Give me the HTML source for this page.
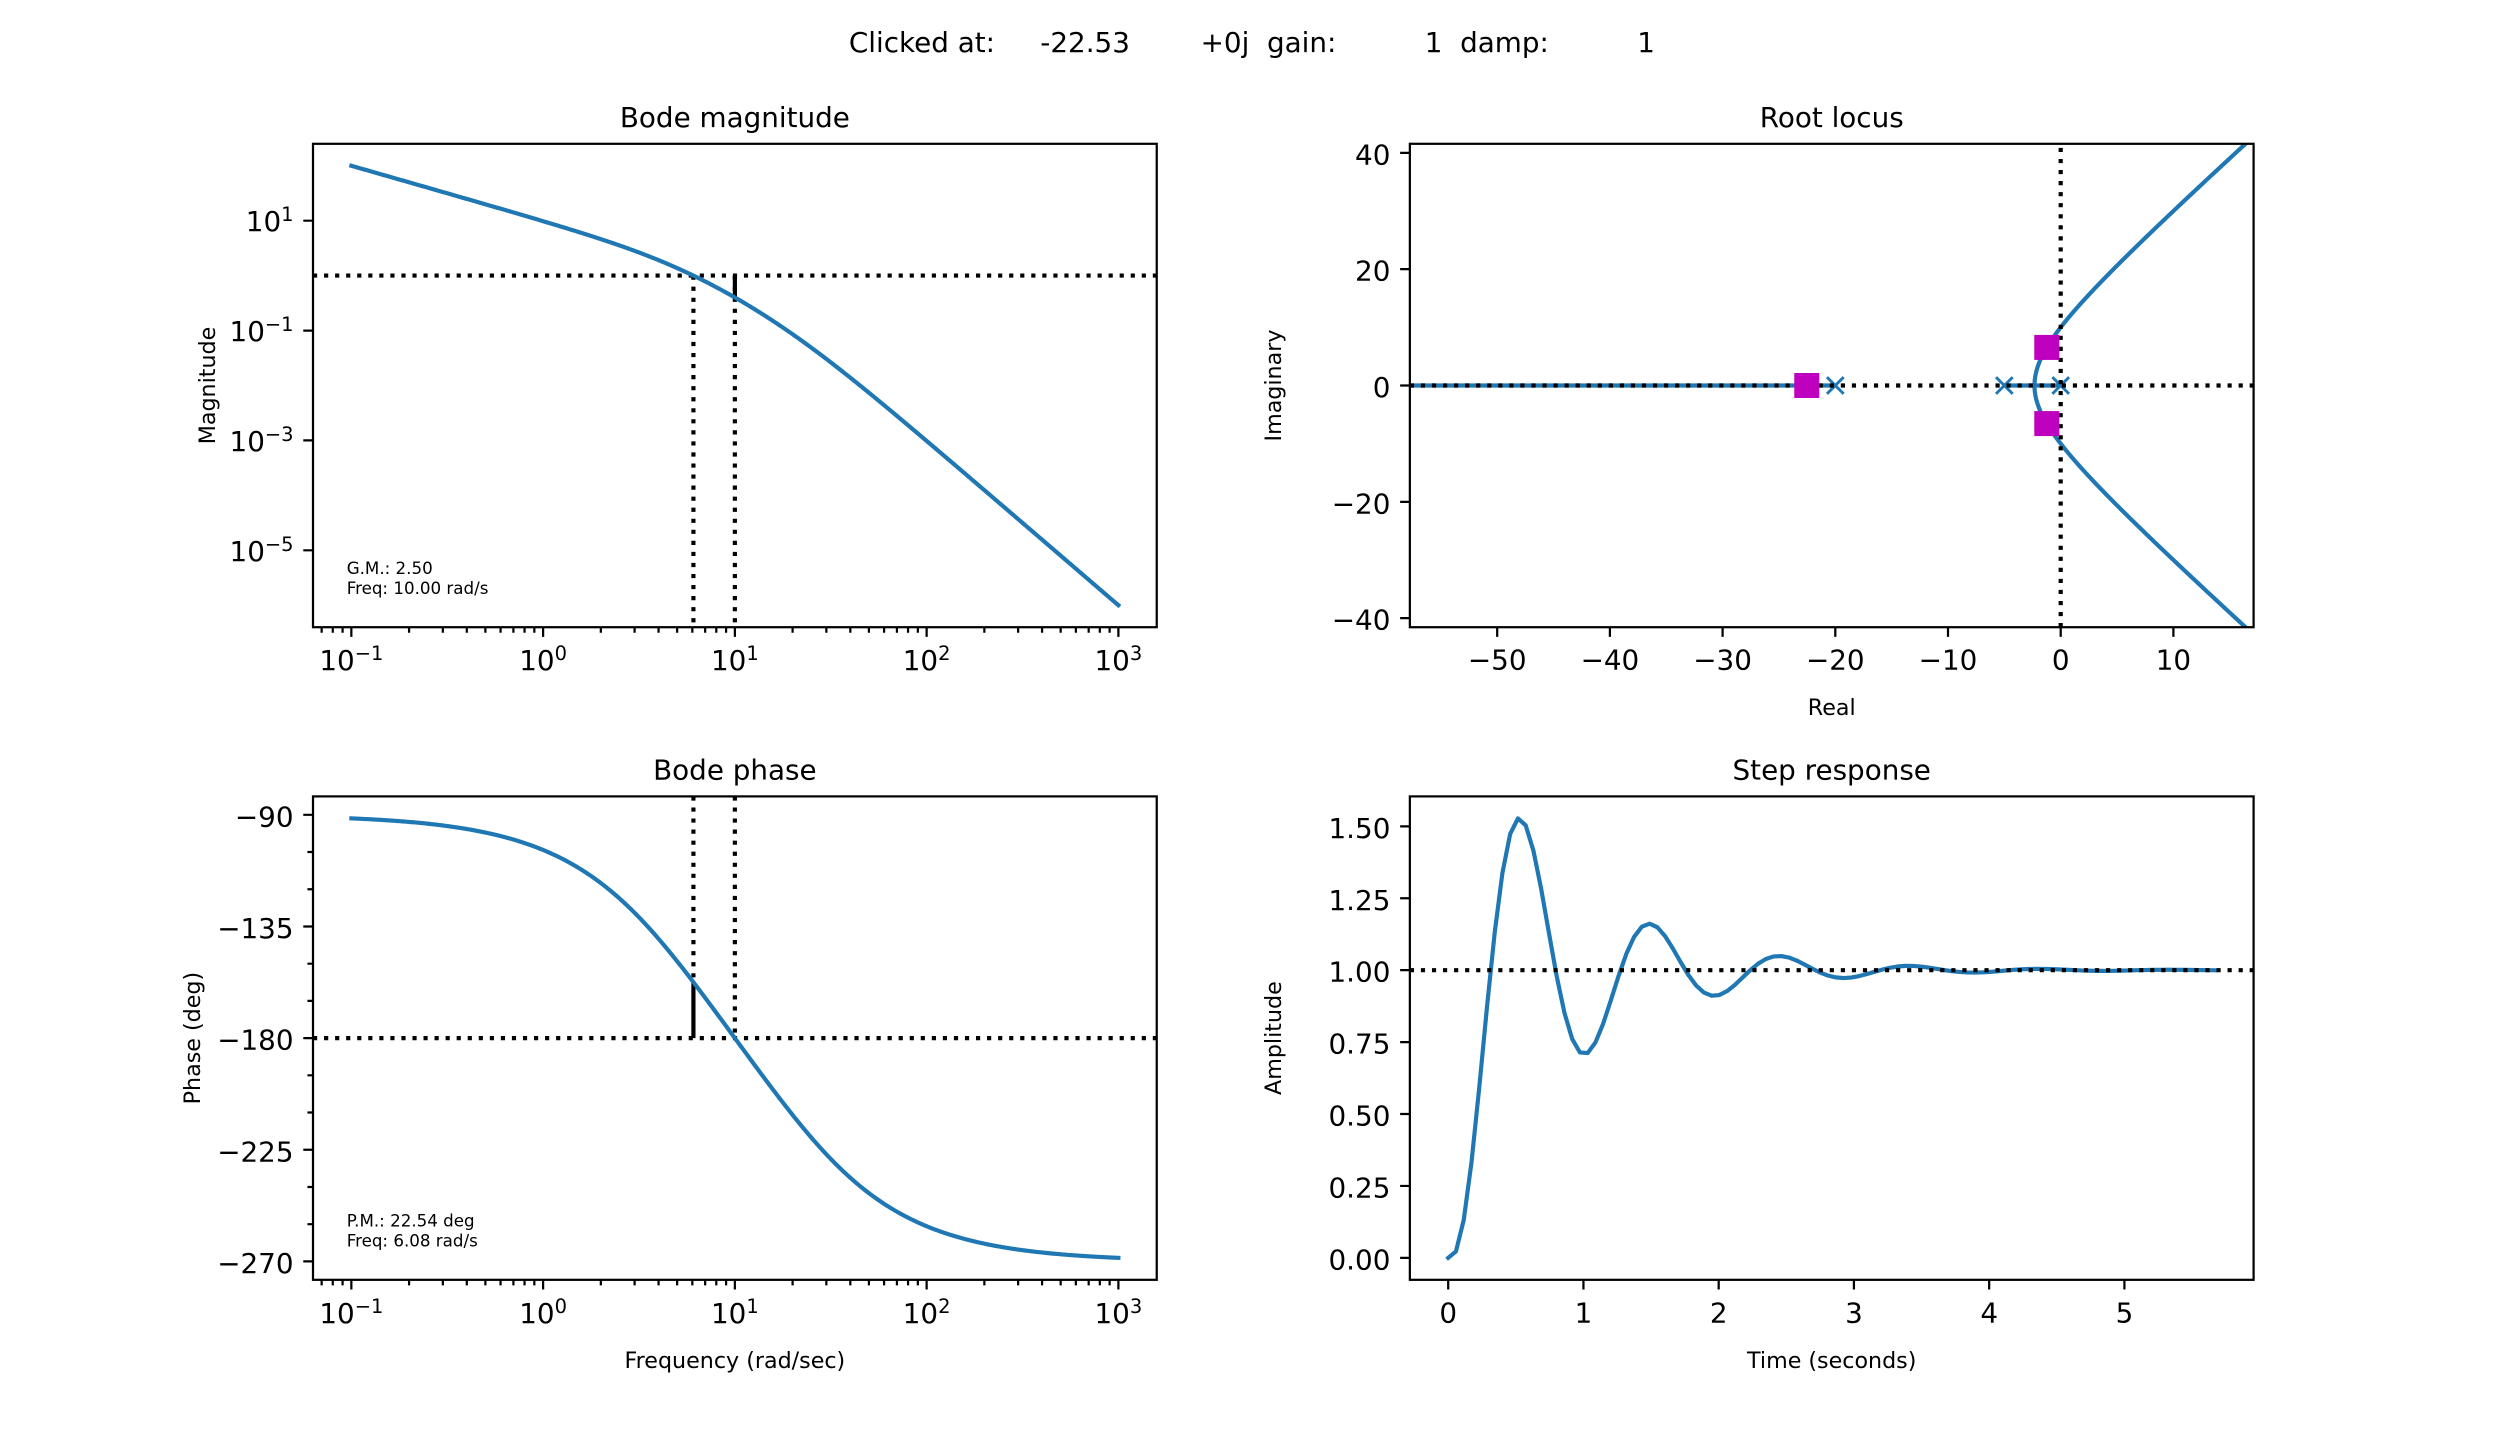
<!DOCTYPE html>
<html><head><meta charset="utf-8">
<style>
html,body{margin:0;padding:0;background:#fff;}
svg{display:block;}
text{font-family:"DejaVu Sans","Liberation Sans",sans-serif;fill:#000;}
</style></head><body>
<svg id="s" xmlns="http://www.w3.org/2000/svg" width="2504" height="1438" viewBox="0 0 2504 1438">
<defs>
<clipPath id="c1"><rect x="313" y="143.8" width="843.74" height="483.41"/></clipPath>
<clipPath id="c2"><rect x="1409.86" y="143.8" width="843.74" height="483.41"/></clipPath>
<clipPath id="c3"><rect x="313" y="796.4" width="843.74" height="483.42"/></clipPath>
<clipPath id="c4"><rect x="1409.86" y="796.4" width="843.74" height="483.42"/></clipPath>
</defs>
<rect width="2504" height="1438" fill="#fff"/>

<!-- suptitle -->
<g font-size="27.8">
<text x="848.9" y="52">Clicked at:</text>
<text x="1040.3" y="52">-22.53</text>
<text x="1200.6" y="52">+0j</text>
<text x="1267.0" y="52">gain:</text>
<text x="1424.8" y="52">1</text>
<text x="1460.1" y="52">damp:</text>
<text x="1637.3" y="52">1</text>
</g>

<!-- titles -->
<g font-size="27.8" text-anchor="middle">
<text x="734.87" y="127.1">Bode magnitude</text>
<text x="1831.73" y="127.1">Root locus</text>
<text x="734.87" y="779.7">Bode phase</text>
<text x="1831.73" y="779.7">Step response</text>
</g>

<!-- axis labels -->
<g font-size="22.2" text-anchor="middle">
<text transform="translate(215,385.5) rotate(-90)">Magnitude</text>
<text transform="translate(200,1038.1) rotate(-90)">Phase (deg)</text>
<text transform="translate(1281,385.5) rotate(-90)">Imaginary</text>
<text transform="translate(1281,1038.1) rotate(-90)">Amplitude</text>
<text x="1831.73" y="715">Real</text>
<text x="734.87" y="1368">Frequency (rad/sec)</text>
<text x="1831.73" y="1368">Time (seconds)</text>
</g>

<!-- ===== Bode magnitude ===== -->
<g clip-path="url(#c1)" stroke="#000" stroke-width="4.17" stroke-dasharray="4.17 6.88" fill="none">
<path d="M313,275.6H1156.74"/>
<path d="M693.42,275.6V640"/>
<path d="M734.87,275.6V640"/>
</g>
<path d="M734.87,275.6V297.5" stroke="#000" stroke-width="4.17" fill="none"/>
<path id="mag" clip-path="url(#c1)" fill="none" stroke="#1f77b4" stroke-width="4.17" stroke-linejoin="round" stroke-linecap="square" d=""/>
<g font-size="16.7">
<text x="346.7" y="573.9">G.M.: 2.50</text>
<text x="346.7" y="593.9">Freq: 10.00 rad/s</text>
</g>
<rect x="313" y="143.8" width="843.74" height="483.41" fill="none" stroke="#000" stroke-width="2.22"/>
<path stroke="#000" stroke-width="2.22" fill="none" d="M351.35,627.21v9.72M543.11,627.21v9.72M734.87,627.21v9.72M926.63,627.21v9.72M1118.39,627.21v9.72M313,220.7h-9.72M313,330.6h-9.72M313,440.4h-9.72M313,550.3h-9.72"/>
<path id="minor1" stroke="#000" stroke-width="2.22" fill="none" d=""/>
<g font-size="27.8" text-anchor="middle">
<text x="351.35" y="670.2">10<tspan dy="-10" font-size="19.46">−1</tspan></text>
<text x="543.11" y="670.2">10<tspan dy="-10" font-size="19.46">0</tspan></text>
<text x="734.87" y="670.2">10<tspan dy="-10" font-size="19.46">1</tspan></text>
<text x="926.63" y="670.2">10<tspan dy="-10" font-size="19.46">2</tspan></text>
<text x="1118.39" y="670.2">10<tspan dy="-10" font-size="19.46">3</tspan></text>
</g>
<g font-size="27.8" text-anchor="end">
<text x="293.56" y="231.2">10<tspan dy="-10" font-size="19.46">1</tspan></text>
<text x="293.56" y="341.1">10<tspan dy="-10" font-size="19.46">−1</tspan></text>
<text x="293.56" y="450.9">10<tspan dy="-10" font-size="19.46">−3</tspan></text>
<text x="293.56" y="560.8">10<tspan dy="-10" font-size="19.46">−5</tspan></text>
</g>

<!-- ===== Bode phase ===== -->
<g clip-path="url(#c3)" stroke="#000" stroke-width="4.17" stroke-dasharray="4.17 6.88" fill="none">
<path d="M313,1038.11H1156.74"/>
<path d="M693.42,796.4V982.19"/>
<path d="M734.87,796.4V1038.11"/>
</g>
<path d="M693.42,982.19V1038.11" stroke="#000" stroke-width="4.17" fill="none"/>
<path id="ph" clip-path="url(#c3)" fill="none" stroke="#1f77b4" stroke-width="4.17" stroke-linejoin="round" stroke-linecap="square" d=""/>
<g font-size="16.7">
<text x="346.7" y="1226.5">P.M.: 22.54 deg</text>
<text x="346.7" y="1246.5">Freq: 6.08 rad/s</text>
</g>
<rect x="313" y="796.4" width="843.74" height="483.42" fill="none" stroke="#000" stroke-width="2.22"/>
<path stroke="#000" stroke-width="2.22" fill="none" d="M351.35,1279.82v9.72M543.11,1279.82v9.72M734.87,1279.82v9.72M926.63,1279.82v9.72M1118.39,1279.82v9.72M313,814.82h-9.72M313,926.46h-9.72M313,1038.11h-9.72M313,1149.75h-9.72M313,1261.39h-9.72M313,852.03h-5.56M313,889.25h-5.56M313,963.68h-5.56M313,1000.89h-5.56M313,1075.32h-5.56M313,1112.53h-5.56M313,1186.96h-5.56M313,1224.18h-5.56"/>
<path id="minor3" stroke="#000" stroke-width="2.22" fill="none" d=""/>
<g font-size="27.8" text-anchor="middle">
<text x="351.35" y="1322.8">10<tspan dy="-10" font-size="19.46">−1</tspan></text>
<text x="543.11" y="1322.8">10<tspan dy="-10" font-size="19.46">0</tspan></text>
<text x="734.87" y="1322.8">10<tspan dy="-10" font-size="19.46">1</tspan></text>
<text x="926.63" y="1322.8">10<tspan dy="-10" font-size="19.46">2</tspan></text>
<text x="1118.39" y="1322.8">10<tspan dy="-10" font-size="19.46">3</tspan></text>
</g>
<g font-size="27.8" text-anchor="end">
<text x="293.56" y="826.3">−90</text>
<text x="293.56" y="938.0">−135</text>
<text x="293.56" y="1049.6">−180</text>
<text x="293.56" y="1161.3">−225</text>
<text x="293.56" y="1272.9">−270</text>
</g>

<!-- ===== Root locus ===== -->
<g clip-path="url(#c2)" fill="none" stroke="#1f77b4" stroke-width="4.17" stroke-linejoin="round" stroke-linecap="square">
<path d="M1380,385.5H1835.3"/>
<path d="M2004.35,385.5H2060.7"/>
<path id="rlu" d=""/>
<path id="rll" d=""/>
</g>
<g stroke="#1f77b4" stroke-width="2.9" fill="none">
<path d="M1826.95,377.15l16.7,16.7M1826.95,393.85l16.7,-16.7"/>
<path d="M1996.0,377.15l16.7,16.7M1996.0,393.85l16.7,-16.7"/>
<path d="M2052.35,377.15l16.7,16.7M2052.35,393.85l16.7,-16.7"/>
</g>
<g clip-path="url(#c2)" stroke="#000" stroke-width="4.17" stroke-dasharray="4.17 6.88" fill="none">
<path d="M1409.86,385.5H2253.6"/>
<path d="M2060.7,627.21V143.8"/>
</g>
<g fill="#bf00bf">
<rect x="1794.27" y="373" width="25" height="25"/>
<rect x="2034.29" y="334.92" width="25" height="25"/>
<rect x="2034.29" y="411.08" width="25" height="25"/>
</g>
<rect x="1409.86" y="143.8" width="843.74" height="483.41" fill="none" stroke="#000" stroke-width="2.22"/>
<path stroke="#000" stroke-width="2.22" fill="none" d="M1497.2,627.21v9.72M1609.9,627.21v9.72M1722.6,627.21v9.72M1835.3,627.21v9.72M1948.0,627.21v9.72M2060.7,627.21v9.72M2173.4,627.21v9.72M1409.86,152.85h-9.72M1409.86,269.17h-9.72M1409.86,385.5h-9.72M1409.86,501.83h-9.72M1409.86,618.16h-9.72"/>
<g font-size="27.8" text-anchor="middle">
<text x="1497.2" y="669.7">−50</text>
<text x="1609.9" y="669.7">−40</text>
<text x="1722.6" y="669.7">−30</text>
<text x="1835.3" y="669.7">−20</text>
<text x="1948.0" y="669.7">−10</text>
<text x="2060.7" y="669.7">0</text>
<text x="2173.4" y="669.7">10</text>
</g>
<g font-size="27.8" text-anchor="end">
<text x="1390.4" y="164.35">40</text>
<text x="1390.4" y="280.67">20</text>
<text x="1390.4" y="397.0">0</text>
<text x="1390.4" y="513.33">−20</text>
<text x="1390.4" y="629.66">−40</text>
</g>

<!-- ===== Step response ===== -->
<path id="step" clip-path="url(#c4)" fill="none" stroke="#1f77b4" stroke-width="4.17" stroke-linejoin="round" stroke-linecap="square" d=""/>
<g clip-path="url(#c4)" stroke="#000" stroke-width="4.17" stroke-dasharray="4.17 6.88" fill="none">
<path d="M1409.86,970.17H2253.6"/>
</g>
<rect x="1409.86" y="796.4" width="843.74" height="483.42" fill="none" stroke="#000" stroke-width="2.22"/>
<path stroke="#000" stroke-width="2.22" fill="none" d="M1448.21,1279.82v9.72M1583.45,1279.82v9.72M1718.69,1279.82v9.72M1853.93,1279.82v9.72M1989.17,1279.82v9.72M2124.41,1279.82v9.72M1409.86,1257.85h-9.72M1409.86,1185.93h-9.72M1409.86,1114.01h-9.72M1409.86,1042.09h-9.72M1409.86,970.17h-9.72M1409.86,898.25h-9.72M1409.86,826.33h-9.72"/>
<g font-size="27.8" text-anchor="middle">
<text x="1448.21" y="1322.3">0</text>
<text x="1583.45" y="1322.3">1</text>
<text x="1718.69" y="1322.3">2</text>
<text x="1853.93" y="1322.3">3</text>
<text x="1989.17" y="1322.3">4</text>
<text x="2124.41" y="1322.3">5</text>
</g>
<g font-size="27.8" text-anchor="end">
<text x="1390.4" y="1269.35">0.00</text>
<text x="1390.4" y="1197.43">0.25</text>
<text x="1390.4" y="1125.51">0.50</text>
<text x="1390.4" y="1053.59">0.75</text>
<text x="1390.4" y="981.67">1.00</text>
<text x="1390.4" y="909.75">1.25</text>
<text x="1390.4" y="837.83">1.50</text>
</g>
</svg>
<script>
(function(){
function P(p){var s='';for(var i=0;i<p.length;i++){s+=(i?'L':'M')+p[i][0].toFixed(2)+','+p[i][1].toFixed(2);}return s;}
function L10(v){return Math.log(v)/Math.LN10;}
var X=function(w){return 351.35+(L10(w)+1)*191.76;};
var YM=function(m){return 143.8+(2.4-L10(m))*54.933;};
var YP=function(p){return 796.4+(-82.575-p)*2.48094;};
var mag=[],ph=[];
for(var i=0;i<=600;i++){var w=Math.pow(10,-1+4*i/600);
 var m=1000/(w*Math.sqrt(w*w+25)*Math.sqrt(w*w+400));
 var p=-90-Math.atan(w/5)*180/Math.PI-Math.atan(w/20)*180/Math.PI;
 mag.push([X(w),YM(m)]);ph.push([X(w),YP(p)]);}
document.getElementById('mag').setAttribute('d',P(mag));
document.getElementById('ph').setAttribute('d',P(ph));
var lm=[2,3,4,5,6,7,8,9],d1='',d3='';
for(var d=-2;d<=2;d++){for(var k=0;k<lm.length;k++){var x=X(lm[k]*Math.pow(10,d));
 if(x>=313&&x<=1156.74){d1+='M'+x.toFixed(2)+',627.21v5.56';d3+='M'+x.toFixed(2)+',1279.82v5.56';}}}
document.getElementById('minor1').setAttribute('d',d1);
document.getElementById('minor3').setAttribute('d',d3);
var RX=function(v){return 2060.7+v*11.27;},RY=function(v){return 385.5-v*5.8163;};
var up=[],lo=[];var rb=-25-2*((-50+Math.sqrt(1300))/6);
for(var i=0;i<=600;i++){var r=rb-Math.pow(i/600,2)*60;var sg=(-25-r)/2;var w2=100-2*r*sg-sg*sg;var w=Math.sqrt(Math.max(0,w2));
 up.push([RX(sg),RY(w)]);lo.push([RX(sg),RY(-w)]);}
document.getElementById('rlu').setAttribute('d',P(up));
document.getElementById('rll').setAttribute('d',P(lo));
function f(s){return s*s*s+25*s*s+100*s+1000;}
var r=-22;for(var i=0;i<60;i++){r-=f(r)/(3*r*r+50*r+100);}
var a=-r,b=25-a,c=1000/a,sg=-b/2,om=Math.sqrt(c-sg*sg);
var A=1000/(r*(r*r+b*r+c)),B=-1-A,C=-(r*A+sg*B)/om;
var T=7/Math.abs(sg),st=[];
for(var k=0;k<100;k++){var t=k*T/99;var y=1+A*Math.exp(r*t)+Math.exp(sg*t)*(B*Math.cos(om*t)+C*Math.sin(om*t));
 st.push([1448.21+t*135.24,1257.85-y*287.677]);}
document.getElementById('step').setAttribute('d',P(st));
})();
</script>
</body></html>
